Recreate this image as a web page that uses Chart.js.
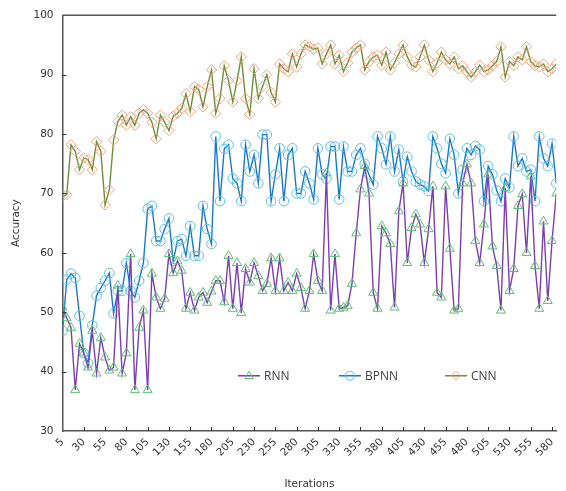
<!DOCTYPE html>
<html>
<head>
<meta charset="utf-8">
<script src="https://cdn.jsdelivr.net/npm/chart.js@4.4.0/dist/chart.umd.min.js"></script>
<style>
html, body { margin: 0; padding: 0; background: #fff; }
canvas { display: block; }
</style>
</head>
<body>
<canvas id="myChart" width="566" height="491"></canvas>
<script>
// x categories (iterations) and tick labels
var iterations = [5,10,15,20,25,30,35,40,45,50,
    55,60,65,70,75,80,85,90,95,100,
    105,110,115,120,125,130,135,140,145,150,
    155,160,165,170,175,180,185,190,195,200,
    205,210,215,220,225,230,235,240,245,250,
    255,260,265,270,275,280,285,290,295,300,
    305,310,315,320,325,330,335,340,345,350,
    355,360,365,370,375,380,385,390,395,400,
    405,410,415,420,425,430,435,440,445,450,
    455,460,465,470,475,480,485,490,495,500,
    505,510,515,520,525,530,535,540,545,550,
    555,560,565,570,575,580,585];
var tickLabels = [5,30,55,80,105,130,155,180,205,230,255,280,305,330,355,380,405,430,455,480,505,530,555,580];

var rnn = [50.8, 49.0, 47.4, 36.9, 44.7, 43.1, 40.7, 46.9, 39.7, 45.7,
    42.4, 40.2, 40.7, 54.5, 39.7, 43.1, 59.8, 36.9, 47.4, 50.3,
    36.9, 56.5, 52.5, 50.6, 52.3, 59.8, 56.6, 58.6, 57.0, 50.6,
    53.3, 50.3, 52.5, 53.3, 51.6, 53.5, 55.3, 55.3, 51.7, 59.5,
    50.6, 58.3, 49.9, 57.3, 55.0, 58.3, 56.1, 53.6, 54.8, 59.1,
    53.6, 59.1, 53.6, 55.0, 53.6, 56.5, 54.1, 50.6, 53.6, 59.8,
    55.3, 53.6, 73.4, 50.3, 59.8, 50.6, 50.8, 51.1, 54.8, 63.3,
    70.7, 74.6, 70.0, 53.3, 50.6, 64.5, 63.3, 61.5, 50.8, 67.0,
    71.7, 58.3, 64.2, 66.5, 64.8, 58.3, 64.0, 71.2, 53.3, 52.5,
    71.2, 60.7, 50.3, 50.6, 71.7, 74.9, 71.7, 62.0, 58.3, 64.8,
    73.2, 61.1, 57.8, 50.3, 70.9, 53.6, 57.3, 67.9, 69.9, 60.0,
    72.9, 57.8, 50.6, 65.3, 51.9, 62.0, 70.0];

var bpnn = [46.9, 55.5, 56.5, 55.8, 49.4, 43.1, 41.4, 47.8, 52.8, 54.1,
    55.3, 56.6, 49.8, 53.6, 53.6, 58.3, 53.6, 52.5, 55.3, 58.3,
    67.4, 67.9, 62.0, 62.0, 64.0, 65.8, 58.6, 62.0, 62.3, 59.5,
    64.5, 59.5, 59.5, 67.9, 64.0, 61.5, 79.6, 68.7, 77.5, 78.2,
    72.5, 71.7, 68.7, 78.2, 73.7, 76.5, 71.7, 79.9, 79.9, 68.7,
    73.2, 77.6, 68.7, 76.5, 77.6, 70.0, 70.0, 73.7, 71.7, 69.0,
    77.6, 73.2, 72.5, 77.9, 77.9, 69.0, 77.9, 73.7, 73.7, 76.5,
    77.6, 75.0, 73.2, 71.5, 79.6, 77.6, 74.9, 79.6, 73.7, 77.4,
    72.0, 76.2, 73.7, 72.0, 71.5, 71.2, 70.4, 79.6, 77.6, 75.0,
    73.4, 79.2, 76.5, 70.0, 74.0, 77.6, 76.5, 78.0, 77.4, 68.7,
    74.6, 73.2, 70.5, 68.7, 72.5, 71.0, 79.6, 74.6, 75.9, 73.7,
    74.0, 68.7, 79.6, 75.9, 74.6, 78.4, 71.7];

var cnn = [69.5, 69.8, 78.2, 77.1, 74.0, 76.0, 75.7, 74.0, 78.7, 77.1,
    68.1, 70.6, 79.0, 82.1, 83.2, 81.5, 82.9, 81.5, 83.5, 84.1,
    83.5, 82.0, 79.2, 83.2, 82.0, 80.6, 83.0, 83.5, 84.3, 86.8,
    83.8, 88.0, 87.5, 84.6, 88.0, 90.8, 83.5, 86.0, 91.5, 89.0,
    85.4, 89.0, 93.0, 86.0, 83.3, 91.0, 86.0, 88.0, 90.0, 87.0,
    85.4, 91.8, 91.0, 90.5, 93.5, 91.3, 93.5, 95.0, 94.7, 94.3,
    94.5, 91.8, 93.5, 95.0, 91.8, 93.3, 90.5, 92.0, 93.8, 94.5,
    95.0, 90.8, 92.2, 93.0, 93.3, 91.6, 93.8, 90.8, 92.0, 93.5,
    95.0, 93.0, 91.6, 91.3, 93.0, 95.0, 92.5, 90.5, 92.0, 93.8,
    92.5, 91.8, 93.0, 91.0, 91.5, 90.5, 89.6, 90.5, 91.6, 90.5,
    90.8, 91.5, 92.2, 94.7, 89.6, 92.2, 91.5, 93.0, 92.5, 94.7,
    92.2, 91.5, 91.3, 91.8, 90.5, 91.0, 91.8];

var RNN_LINE = '#7a3fb2', RNN_MARK = '#5cbf72';
var BP_LINE = '#1a78cc', BP_MARK = '#5cbfe8';
var CNN_LINE = '#6b8f3a', CNN_MARK = '#f2a37a';

function toXY(arr) {
    return iterations.map(function (it, i) { return { x: it, y: arr[i] }; });
}

function drawMarker(ctx, style, x, y, r, color) {
    ctx.save();
    ctx.strokeStyle = color;
    ctx.lineWidth = 1;
    ctx.beginPath();
    if (style === 'triangle') {
        ctx.moveTo(x, y - r);
        ctx.lineTo(x + r * 0.95, y + r * 0.6);
        ctx.lineTo(x - r * 0.95, y + r * 0.6);
        ctx.closePath();
    } else if (style === 'circle') {
        ctx.arc(x, y, r, 0, Math.PI * 2);
    } else {
        ctx.moveTo(x, y - r);
        ctx.lineTo(x + r, y);
        ctx.lineTo(x, y + r);
        ctx.lineTo(x - r, y);
        ctx.closePath();
    }
    ctx.stroke();
    ctx.restore();
}

var framePlugin = {
    id: 'frame',
    afterDraw: function (chart) {
        var ctx = chart.ctx, a = chart.chartArea;
        var xs = chart.scales.x, ys = chart.scales.y;
        ctx.save();
        // top border
        ctx.strokeStyle = '#555';
        ctx.lineWidth = 1.5;
        ctx.beginPath();
        ctx.moveTo(a.left, a.top);
        ctx.lineTo(a.right, a.top);
        ctx.stroke();
        // inward ticks
        ctx.strokeStyle = '#333';
        ctx.lineWidth = 1;
        ys.ticks.forEach(function (t) {
            if (t.value <= 30 || t.value >= 100) return;
            var py = Math.round(ys.getPixelForValue(t.value)) + 0.5;
            ctx.beginPath();
            ctx.moveTo(a.left, py);
            ctx.lineTo(a.left + 4, py);
            ctx.stroke();
        });
        xs.ticks.forEach(function (t) {
            if (t.value <= 5) return;
            var px = Math.round(xs.getPixelForValue(t.value)) + 0.5;
            ctx.beginPath();
            ctx.moveTo(px, a.bottom);
            ctx.lineTo(px, a.bottom - 4);
            ctx.stroke();
        });
        // legend inside plot
        var ly = ys.getPixelForValue(39.3);
        var items = [
            { text: 'RNN', line: RNN_LINE, mark: RNN_MARK, style: 'triangle', x: 238 },
            { text: 'BPNN', line: BP_LINE, mark: BP_MARK, style: 'circle', x: 339 },
            { text: 'CNN', line: CNN_LINE, mark: CNN_MARK, style: 'diamond', x: 445 }
        ];
        ctx.font = '12px "Open Sans"';
        ctx.textBaseline = 'middle';
        ctx.textAlign = 'left';
        items.forEach(function (it) {
            ctx.strokeStyle = it.line;
            ctx.lineWidth = 1.5;
            ctx.beginPath();
            ctx.moveTo(it.x, ly);
            ctx.lineTo(it.x + 22, ly);
            ctx.stroke();
            drawMarker(ctx, it.style, it.x + 11, ly, 4.5, it.mark);
            ctx.fillStyle = '#404040';
            ctx.fillText(it.text, it.x + 26, ly + 1);
        });
        ctx.restore();
    }
};

function makeSet(label, arr, line, mark, style, radius) {
    return {
        label: label,
        data: toXY(arr),
        borderColor: line,
        borderWidth: 1.4,
        pointStyle: style,
        pointRadius: radius,
        pointBorderWidth: 1,
        pointBorderColor: mark,
        pointBackgroundColor: 'rgba(255,255,255,0)',
        tension: 0,
        fill: false
    };
}

function renderChart() {
    var ctx = document.getElementById('myChart').getContext('2d');
    var tickFont = { family: 'DejaVu Sans', size: 10.5 };
    new Chart(ctx, {
        type: 'line',
        data: {
            datasets: [
                makeSet('RNN', rnn, RNN_LINE, RNN_MARK, 'triangle', 5.2),
                makeSet('BPNN', bpnn, BP_LINE, BP_MARK, 'circle', 4.8),
                makeSet('CNN', cnn, CNN_LINE, CNN_MARK, 'rectRot', 5.2)
            ]
        },
        options: {
            responsive: false,
            animation: false,
            layout: { padding: { top: 13, left: 0, right: 0, bottom: 0 } },
            plugins: { legend: { display: false }, tooltip: { enabled: false } },
            scales: {
                x: {
                    type: 'linear',
                    min: 5,
                    max: 585,
                    afterBuildTicks: function (s) {
                        s.ticks = tickLabels.map(function (v) { return { value: v }; });
                    },
                    afterFit: function (s) { s.height = 60; },
                    grid: { display: false, drawTicks: false },
                    border: { display: true, color: '#555', width: 1.5 },
                    ticks: { autoSkip: false, minRotation: 45, maxRotation: 45, padding: 5, color: '#333', font: tickFont },
                    title: { display: true, text: 'Iterations', color: '#333', font: tickFont, padding: { top: 0, bottom: 0 } }
                },
                y: {
                    min: 30,
                    max: 100,
                    afterFit: function (s) { s.width = 62.5; },
                    grid: { display: false, drawTicks: false },
                    border: { display: true, color: '#555', width: 1.5 },
                    ticks: { stepSize: 10, padding: 9, color: '#333', font: tickFont },
                    title: { display: true, text: 'Accuracy', color: '#333', font: tickFont, padding: { top: 10, bottom: 0 } }
                }
            }
        },
        plugins: [framePlugin]
    });
}

renderChart();
</script>
</body>
</html>
